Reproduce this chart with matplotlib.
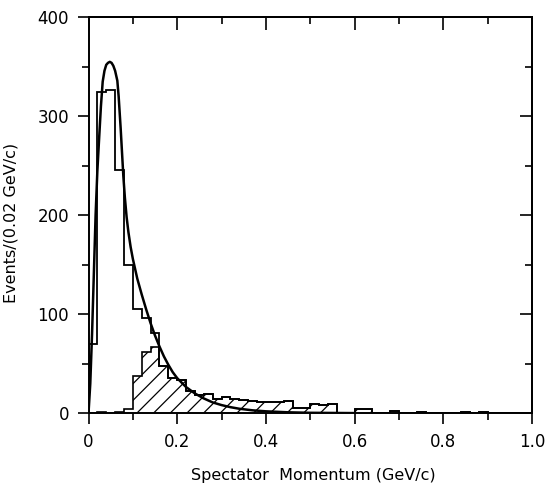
import numpy as np
import matplotlib
matplotlib.use("Agg")
import matplotlib.pyplot as plt
from matplotlib.ticker import MultipleLocator

# Bin edges: 0.02 GeV/c bins from 0 to 1.0
bin_width = 0.02
edges = np.round(np.arange(0, 1.0 + bin_width / 2, bin_width), 4)

# All events per bin (open histogram)
all_events = [70, 325, 327, 246, 150, 105, 96, 81, 48, 36,
              34, 23, 18, 20, 14, 16, 14, 13, 12, 11,
              11, 11, 12, 5, 5, 9, 8, 9, 0, 0,
              4, 4, 0, 0, 2, 0, 0, 1, 0, 0,
              0, 0, 1, 0, 1, 0, 0, 0, 0, 0]

# Selected subset per bin (hatched histogram)
hatched_events = [0, 1, 0, 1, 4, 38, 62, 67, 48, 36,
                  34, 23, 18, 20, 14, 16, 14, 13, 12, 11,
                  11, 11, 12, 5, 5, 9, 8, 9, 0, 0,
                  4, 4, 0, 0, 2, 0, 0, 1, 0, 0,
                  0, 0, 1, 0, 1, 0, 0, 0, 0, 0]

# Smooth curve
curve_p = [0.000, 0.004, 0.008, 0.012, 0.016, 0.020, 0.024, 0.028, 0.032, 0.036,
           0.040, 0.044, 0.048, 0.052, 0.056, 0.060, 0.065, 0.068, 0.0725, 0.0785,
           0.082, 0.086, 0.090, 0.095, 0.100, 0.110, 0.120, 0.130, 0.140, 0.150,
           0.160, 0.170, 0.180, 0.190, 0.200, 0.220, 0.240, 0.260, 0.280, 0.300,
           0.320, 0.340, 0.370, 0.400, 0.450, 0.500, 0.600]
curve_n = [0, 30, 80, 140, 200, 245, 278, 310, 335, 346,
           352, 354, 355, 354, 351, 346, 336, 320, 288, 240,
           218, 198, 183, 168, 156, 136, 120, 105, 91, 78.5,
           67.5, 57.5, 49, 41.5, 35.5, 26.5, 20, 15, 11, 8.3,
           6.2, 4.6, 3, 2, 1, 0.5, 0.2]

x_ticks = [0, 0.2, 0.4, 0.6, 0.8, 1.0]
x_ticklabels = ["0", "0.2", "0.4", "0.6", "0.8", "1.0"]
y_ticks = [0, 100, 200, 300, 400]

plt.rcParams['font.family'] = ['DejaVu Sans']
plt.rcParams['hatch.linewidth'] = 0.9

fig = plt.figure(figsize=(5.49, 4.87), dpi=100)
ax = fig.add_axes([88.5 / 549, 1 - 413.3 / 487, 443.5 / 549, 396 / 487])

ax.stairs(hatched_events, edges, fill=True, facecolor='white',
          edgecolor='black', hatch='//', linewidth=1.2, zorder=2)
ax.stairs(all_events, edges, fill=False, color='black', linewidth=1.3, zorder=3)
ax.plot(curve_p, curve_n, color='black', linewidth=1.8, zorder=4)

ax.set_xlim(0, 1.0)
ax.set_ylim(0, 400)

ax.set_xticks(x_ticks)
ax.set_xticklabels(x_ticklabels)
ax.set_yticks(y_ticks)
ax.xaxis.set_minor_locator(MultipleLocator(0.1))
ax.yaxis.set_minor_locator(MultipleLocator(50))
ax.tick_params(axis='both', which='major', direction='out', length=8, width=1.2,
               labelsize=12, pad=6)
ax.tick_params(axis='both', which='minor', direction='out', length=5, width=1.2)

for s in ax.spines.values():
    s.set_linewidth(1.4)

top = ax.secondary_xaxis('top')
top.set_xticks(x_ticks)
top.xaxis.set_minor_locator(MultipleLocator(0.1))
top.tick_params(axis='x', which='major', direction='in', length=9, width=1.2, labeltop=False)
top.tick_params(axis='x', which='minor', direction='in', length=5, width=1.2)
top.spines['top'].set_linewidth(1.4)

right = ax.secondary_yaxis('right')
right.set_yticks(y_ticks)
right.yaxis.set_minor_locator(MultipleLocator(50))
right.tick_params(axis='y', which='major', direction='in', length=9, width=1.2, labelright=False)
right.tick_params(axis='y', which='minor', direction='in', length=5, width=1.2)
right.spines['right'].set_linewidth(1.4)

ax.set_xlabel("Spectator  Momentum (GeV/c)", fontsize=11.5)
ax.set_ylabel("Events/(0.02 GeV/c)", fontsize=11.5)
ax.xaxis.set_label_coords(0.506, -0.138)
ax.yaxis.set_label_coords(-0.158, 0.48)

fig.savefig("out.png", dpi=100)
